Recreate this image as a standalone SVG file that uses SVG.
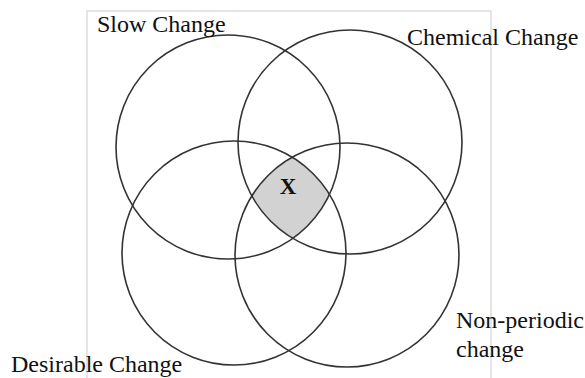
<svg xmlns="http://www.w3.org/2000/svg" width="585" height="378" viewBox="0 0 585 378">
  <style>
    .c { fill: none; stroke: #333333; stroke-width: 1.6; }
    .lbl { font-family: "Liberation Serif", "Times New Roman", serif; font-size: 24px; fill: #111111; }
    .x { font-family: "Liberation Serif", "Times New Roman", serif; font-size: 23px; font-weight: bold; fill: #111111; text-anchor: middle; }
  </style>
  <rect x="87" y="11" width="404" height="380" fill="#ffffff" stroke="#d4d4d4" stroke-width="1.2"/>
  <g id="overlap">
    <path d="M292.2,157.3 A112,112 0 0 1 329.4,194.4 A112,112 0 0 1 292.8,238.3 A112,112 0 0 1 251.8,195.9 A112,112 0 0 1 292.2,157.3 Z" fill="#d2d2d2"/>
    <text class="x" x="288" y="194">X</text>
  </g>
  <g id="slow-change">
    <circle class="c" cx="228" cy="147" r="112"/>
    <text class="lbl" x="97" y="32">Slow Change</text>
  </g>
  <g id="chemical-change">
    <circle class="c" cx="350" cy="142" r="112"/>
    <text class="lbl" x="407" y="45">Chemical Change</text>
  </g>
  <g id="desirable-change">
    <circle class="c" cx="234" cy="253" r="112"/>
    <text class="lbl" x="11" y="372">Desirable Change</text>
  </g>
  <g id="non-periodic-change">
    <circle class="c" cx="347" cy="255" r="112"/>
    <text class="lbl" x="456" y="328">Non-periodic</text>
    <text class="lbl" x="456" y="357">change</text>
  </g>
  <g id="connectors"></g>
</svg>
